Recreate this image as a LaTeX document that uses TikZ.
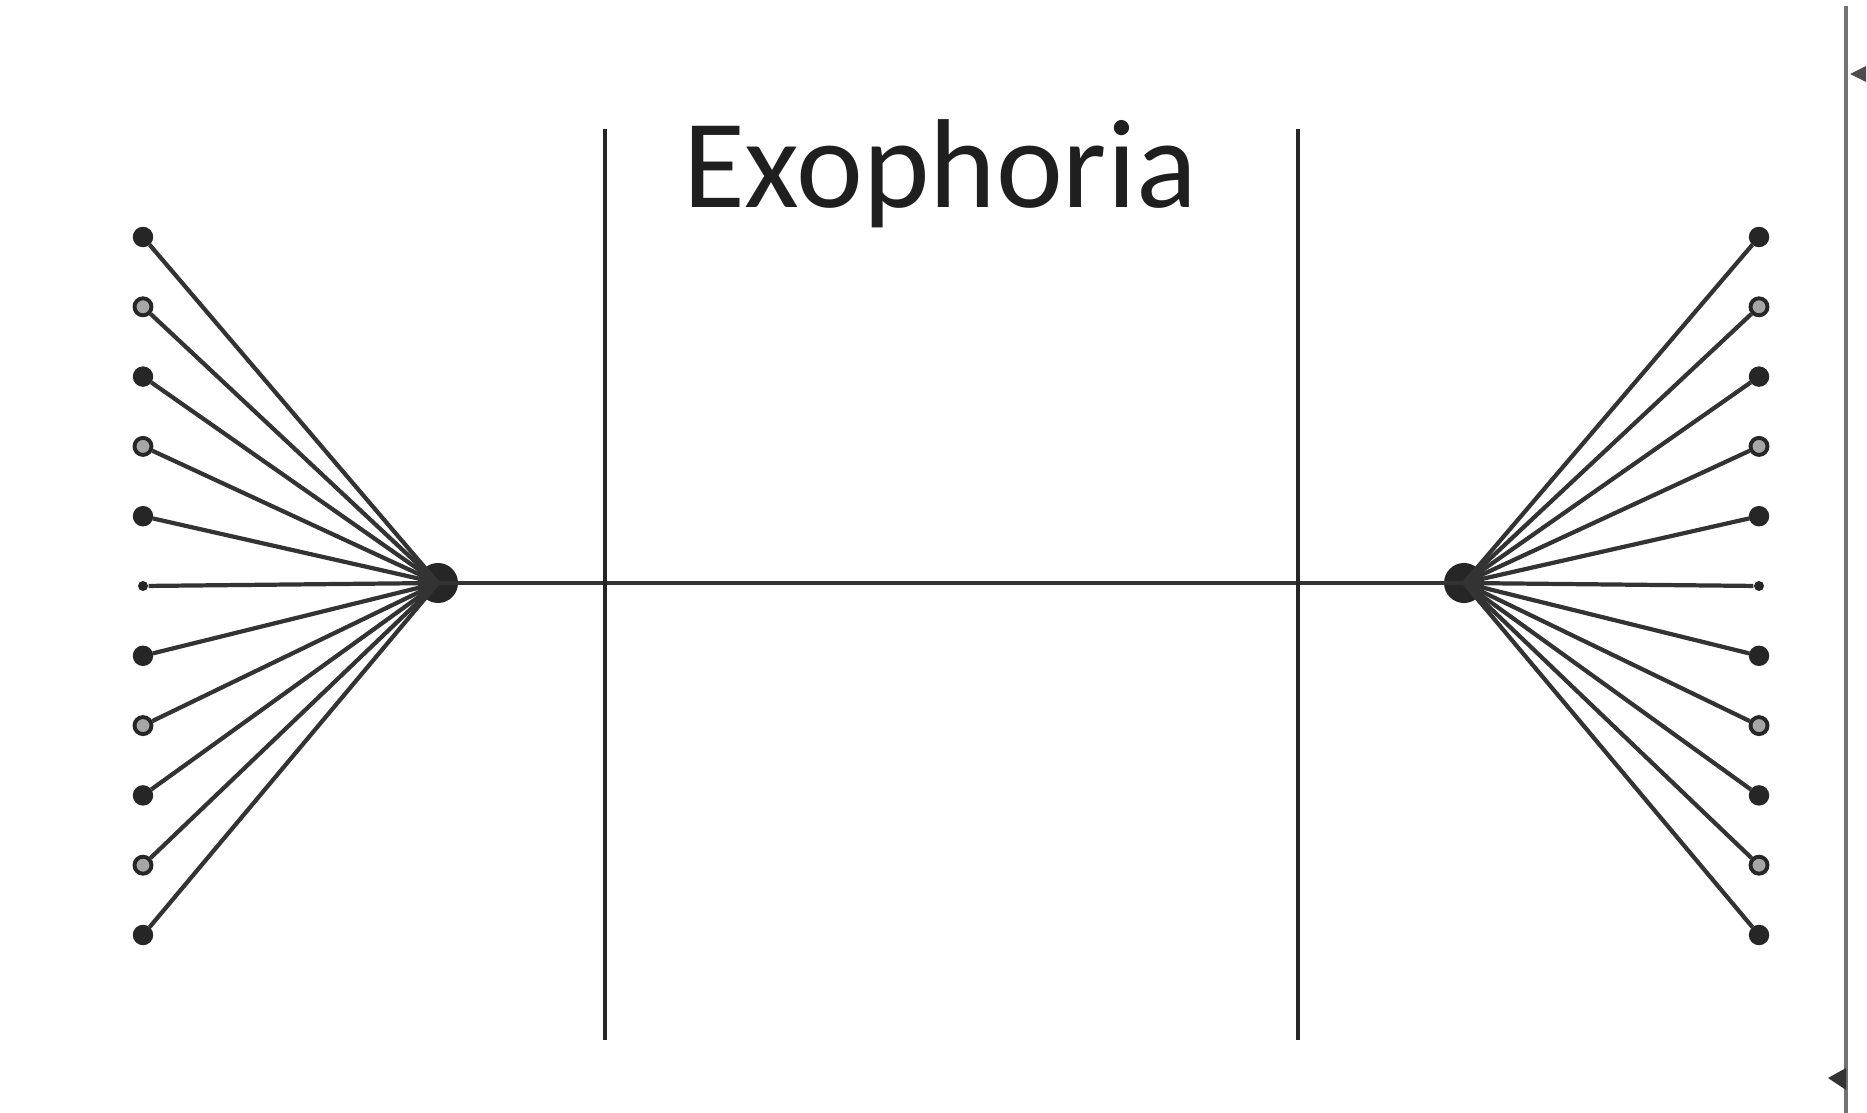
\documentclass[tikz,border=0pt]{standalone}
\usepackage{fontspec}
\setmainfont{Carlito}
\begin{document}
\begin{tikzpicture}[x=0.01cm,y=-0.01cm,
  fan/.style={draw=black!80, line width=1.2pt},
  bar/.style={draw=black!85, line width=1.3pt},
  fdot/.style={circle, fill=black!85, draw=black!85, inner sep=0pt, minimum size=0.19cm},
  odot/.style={circle, fill=black!35, draw=black!85, line width=1.1pt, inner sep=0pt, minimum size=0.17cm},
  sdot/.style={circle, fill=black!85, inner sep=0pt, minimum size=0.1cm},
  hub/.style={circle, fill=black!85, inner sep=0pt, minimum size=0.4cm}]
\useasboundingbox (0,0) rectangle (1867,1113);
% hubs
\node[hub] (HL) at (438,583) {};
\node[hub] (HR) at (1464,583) {};
% dots
\foreach \i/\t in {1/fdot,2/odot,3/fdot,4/odot,5/fdot,6/sdot,7/fdot,8/odot,9/fdot,10/odot,11/fdot}{
  \node[\t] (L\i) at (143,{237+(\i-1)*69.8}) {};
  \node[\t] (R\i) at (1759,{237+(\i-1)*69.8}) {};
  \draw[fan] (L\i) -- (HL.center);
  \draw[fan] (R\i) -- (HR.center);
}
% middle link
\draw[fan] (HL.center) -- (HR.center);
% vertical bars
\coordinate (VLt) at (605,129); \coordinate (VLb) at (605,1040);
\coordinate (VRt) at (1298,129); \coordinate (VRb) at (1298,1040);
\draw[bar] (VLt) -- (VLb);
\draw[bar] (VRt) -- (VRb);
% title
\node[anchor=base, font=\fontsize{36}{42}\selectfont, text=black!88] (T) at (940,208) {Exophoria};
% right edge line
\coordinate (Et) at (1846,6); \coordinate (Eb) at (1846,1113);
\draw[draw=black!55, line width=1.3pt] (Et) -- (Eb);
\fill[black!70] (1850,74) -- (1866,66) -- (1866,82) -- cycle;
\fill[black!80] (1828,1078) -- (1846,1068) -- (1846,1090) -- cycle;
\end{tikzpicture}
\end{document}
